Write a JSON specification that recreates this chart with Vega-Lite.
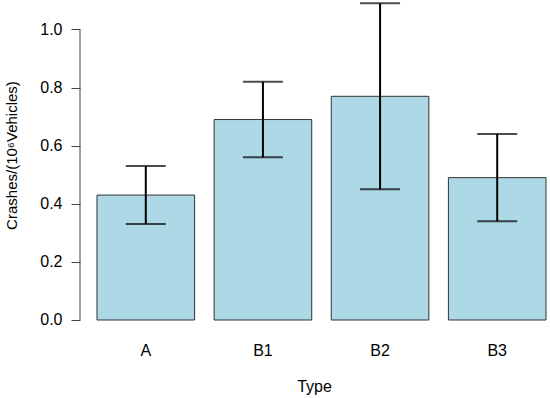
{
  "$schema": "https://vega.github.io/schema/vega-lite/v6.json",
  "width": 468,
  "height": 333,
  "autosize": "none",
  "padding": {"left": 80, "top": 0, "right": 2, "bottom": 65},
  "background": "white",
  "config": {
    "view": {"stroke": null},
    "font": "Liberation Sans"
  },
  "layer": [
    {
      "data": {
        "values": [
          {"Type": "A", "rate": 0.43, "lo": 0.33, "hi": 0.53},
          {"Type": "B1", "rate": 0.69, "lo": 0.56, "hi": 0.82},
          {"Type": "B2", "rate": 0.77, "lo": 0.45, "hi": 1.09},
          {"Type": "B3", "rate": 0.49, "lo": 0.34, "hi": 0.64}
        ]
      },
      "encoding": {
        "x": {
          "field": "Type", "type": "nominal", "sort": null,
          "scale": {"paddingInner": 0.1667, "paddingOuter": 0.081, "align": 0.895},
          "axis": {
            "title": "Type", "labelAngle": 0, "domain": false, "ticks": false,
            "labelFontSize": 16, "labelColor": "black", "labelPadding": 9,
            "titleFontSize": 16, "titleFontWeight": "normal", "titleColor": "black", "titlePadding": 20
          }
        }
      },
      "layer": [
        {
          "mark": {"type": "bar", "fill": "#ADD8E6", "stroke": "#333333", "strokeWidth": 1},
          "encoding": {
            "y": {
              "field": "rate", "type": "quantitative",
              "scale": {"domain": [-0.0448, 1.1015], "nice": false, "zero": false},
              "axis": {
                "title": "Crashes/(10⁶Vehicles)",
                "values": [0, 0.2, 0.4, 0.6, 0.8, 1.0],
                "format": ".1f",
                "domain": false, "grid": false,
                "tickSize": 9, "tickColor": "#444444", "tickWidth": 1,
                "labelFontSize": 16, "labelColor": "black", "labelPadding": 9,
                "titleFontSize": 15, "titleFontWeight": "normal", "titleColor": "black",
                "titleX": -64, "titleY": 155, "titleBaseline": "alphabetic", "titleAngle": -90
              }
            },
            "y2": {"datum": 0}
          }
        },
        {
          "mark": {"type": "rule", "color": "black", "strokeWidth": 2},
          "encoding": {
            "y": {"field": "lo", "type": "quantitative"},
            "y2": {"field": "hi"}
          }
        },
        {
          "mark": {"type": "tick", "color": "black", "size": 40, "thickness": 2},
          "encoding": {
            "y": {"field": "lo", "type": "quantitative"}
          }
        },
        {
          "mark": {"type": "tick", "color": "black", "size": 40, "thickness": 2},
          "encoding": {
            "y": {"field": "hi", "type": "quantitative"}
          }
        }
      ]
    },
    {
      "data": {"values": [{"start": 0, "end": 1.0, "edge": 0}]},
      "mark": {"type": "rule", "color": "#444444", "strokeWidth": 1},
      "encoding": {
        "x": {"field": "edge", "type": "quantitative", "scale": {"domain": [0, 1]}, "axis": null},
        "y": {"field": "start", "type": "quantitative"},
        "y2": {"field": "end"}
      }
    }
  ],
  "resolve": {"scale": {"x": "independent"}}
}
